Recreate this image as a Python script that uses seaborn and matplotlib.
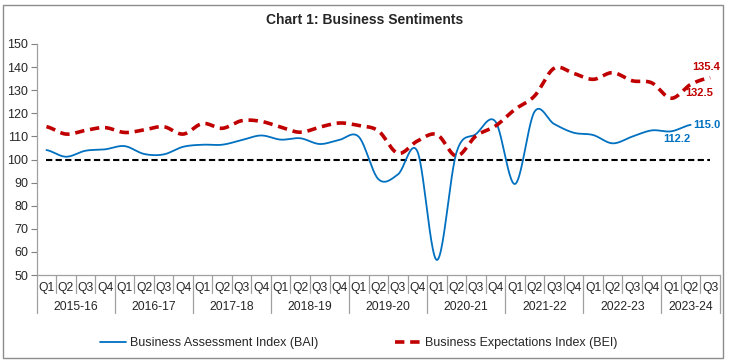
import numpy as np
import pandas as pd
import matplotlib
matplotlib.use("Agg")
import matplotlib.pyplot as plt
import matplotlib.transforms as mtransforms
from matplotlib.patches import Rectangle
from matplotlib.lines import Line2D
import seaborn as sns

# --------------------------
# Data
# --------------------------

years = ["2015-16", "2016-17", "2017-18", "2018-19", "2019-20",
         "2020-21", "2021-22", "2022-23", "2023-24"]
quarters = ["Q1", "Q2", "Q3", "Q4"]
n_last_year = 3  # 2023-24 runs to Q3

bai = [104.1, 101.2, 103.8, 104.4,
       105.8, 102.4, 102.2, 105.5,
       106.4, 106.4, 108.4, 110.4,
       108.6, 109.2, 106.7, 108.5,
       109.8, 91.5, 93.5, 103.5,
       56.5, 103.0, 111.0, 116.4,
       89.4, 120.7, 115.4, 111.6,
       110.6, 107.0, 109.9, 112.6,
       112.2, 115.0]

bei = [114.2, 111.0, 112.6, 113.8,
       111.7, 112.8, 114.2, 111.0,
       115.6, 113.5, 116.8, 116.5,
       114.0, 111.8, 114.0, 115.8,
       114.7, 112.4, 102.7, 108.0,
       110.8, 101.5, 110.2, 114.5,
       121.7, 127.5, 139.5, 137.3,
       134.7, 137.6, 134.1, 133.2,
       126.5, 132.5, 135.4]

baseline = 100

labels = [q for y in years[:-1] for q in quarters] + quarters[:n_last_year]
n_cat = len(labels)


# --------------------------
# Excel-like smoothed line (Catmull-Rom)
# --------------------------

def smooth(vals, n=24):
    v = np.asarray(vals, dtype=float)
    p = np.concatenate([[v[0]], v, [v[-1]]])
    xs, ys = [], []
    t = np.linspace(0, 1, n, endpoint=False)
    for i in range(len(v) - 1):
        p0, p1, p2, p3 = p[i], p[i + 1], p[i + 2], p[i + 3]
        m1 = (p2 - p0) / 2
        m2 = (p3 - p1) / 2
        h = ((2 * t**3 - 3 * t**2 + 1) * p1 + (t**3 - 2 * t**2 + t) * m1
             + (-2 * t**3 + 3 * t**2) * p2 + (t**3 - t**2) * m2)
        xs.extend(i + t)
        ys.extend(h)
    xs.append(len(v) - 1)
    ys.append(v[-1])
    return pd.DataFrame({"x": xs, "y": ys})


sns.set_style("white")
plt.rcParams["font.family"] = ["Liberation Sans", "DejaVu Sans"]

fig = plt.figure(figsize=(7.29, 3.64), dpi=100)
ax = fig.add_axes([36.7 / 729, 1 - 275 / 364, (720 - 36.7) / 729, 231 / 364])

blue = "#0070C0"
red = "#C00000"

# baseline at 100
ax.plot([0, n_cat - 1], [baseline, baseline], color="black", lw=1.5,
        dashes=(3, 1.6), zorder=2)

sb = smooth(bai)
se = smooth(bei)
sns.lineplot(data=sb, x="x", y="y", ax=ax, color=blue, lw=1.3, zorder=3)
sns.lineplot(data=se, x="x", y="y", ax=ax, color=red, lw=2.6, zorder=4)
ax.lines[-1].set_dashes((2.6, 1.6))

ax.set_xlim(-0.5, n_cat - 0.5)
ax.set_ylim(50, 150)
ax.set_yticks(range(50, 151, 10))
ax.set_xticks([])
ax.set_xlabel("")
ax.set_ylabel("")
ax.tick_params(axis="y", left=True, length=4, width=0.8, color="#808080",
               labelsize=9, pad=2)
for s in ["top", "right"]:
    ax.spines[s].set_visible(False)
for s in ["left", "bottom"]:
    ax.spines[s].set_color("#A0A0A0")
    ax.spines[s].set_linewidth(0.9)

# --------------------------
# Data labels
# --------------------------

ax.text(n_cat - 1 - 0.2, bei[-1] + 2.5, f"{bei[-1]:.1f}", color=red,
        fontsize=8, fontweight="bold", ha="center", va="bottom")
ax.text(n_cat - 2 + 0.45, bei[-2] - 1.5, f"{bei[-2]:.1f}", color=red,
        fontsize=8, fontweight="bold", ha="center", va="top")
ax.text(len(bai) - 1 + 0.85, bai[-1], f"{bai[-1]:.1f}", color=blue,
        fontsize=8, fontweight="bold", ha="center", va="center")
ax.text(len(bai) - 2 + 0.3, bai[-2] - 1.3, f"{bai[-2]:.1f}", color=blue,
        fontsize=8, fontweight="bold", ha="center", va="top")

# --------------------------
# Two-level category axis
# --------------------------

trans = mtransforms.blended_transform_factory(ax.transData, ax.transAxes)
sep_col = "#A0A0A0"
for i, lab in enumerate(labels):
    ax.text(i, -0.058, lab, transform=trans, ha="center", va="center",
            fontsize=8.7)
for i in range(n_cat + 1):
    long_sep = (i % 4 == 0) or (i == n_cat)
    y1 = -0.165 if long_sep else -0.078
    ax.add_line(Line2D([i - 0.5, i - 0.5], [0, y1], transform=trans,
                       color=sep_col, lw=0.9, clip_on=False))
for k, yr in enumerate(years):
    start = 4 * k
    end = min(4 * k + 3, n_cat - 1)
    ax.text((start + end) / 2, -0.137, yr, transform=trans, ha="center",
            va="center", fontsize=8.7)

# --------------------------
# Title, legend, frame
# --------------------------

fig.text(0.5, 1 - 20 / 364, "Chart 1: Business Sentiments", ha="center",
         va="center", fontsize=10, fontweight="bold")

handles = [Line2D([], [], color=blue, lw=1.3),
           Line2D([], [], color=red, lw=2.6, dashes=(2.6, 1.6))]
fig.legend(handles, ["Business Assessment Index (BAI)",
                     "Business Expectations Index (BEI)"],
           loc="center", bbox_to_anchor=(0.492, 21 / 364), ncol=2,
           frameon=False, fontsize=9, handlelength=2.1, handletextpad=0.3,
           columnspacing=6.2)

fig.patches.append(Rectangle((3 / 729, 6 / 364), 720 / 729, 353 / 364,
                             transform=fig.transFigure, fill=False,
                             edgecolor="#8C8C8C", lw=1.0))

fig.savefig("out.png", dpi=100)
